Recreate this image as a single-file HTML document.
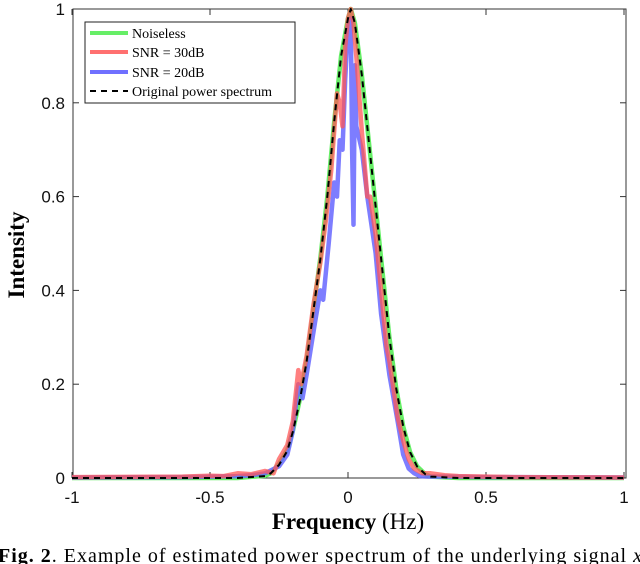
<!DOCTYPE html>
<html><head><meta charset="utf-8"><style>
body{margin:0;background:#fff;width:640px;height:564px;overflow:hidden}
svg{display:block}
.t{font-family:"Liberation Sans",sans-serif;font-size:17px;fill:#111}
.s{font-family:"Liberation Serif",serif}
</style></head><body>
<svg id="chart" width="640" height="564">
<rect x="73" y="9" width="553" height="469" fill="#fff" stroke="#333" stroke-width="1"/>
<g id="ticks"></g>
<g id="series"></g>
<text x="348" y="529" text-anchor="middle" class="s" font-size="23"><tspan font-weight="bold">Frequency</tspan> (Hz)</text>
<text transform="translate(24,255) rotate(-90)" text-anchor="middle" class="s" font-size="23" font-weight="bold">Intensity</text>
<text x="-2" y="562" class="s" font-size="20" textLength="644" lengthAdjust="spacing"><tspan font-weight="bold">Fig. 2</tspan>.  Example of estimated power spectrum of the underlying signal <tspan font-style="italic">x</tspan></text>
<g>
<rect x="85" y="22" width="210" height="81" fill="#fff" stroke="#222" stroke-width="1"/>
<line x1="90" y1="33" x2="128" y2="33" stroke="#66ee66" stroke-width="4"/>
<text x="132" y="38" class="s" font-size="14">Noiseless</text>
<line x1="90" y1="52" x2="128" y2="52" stroke="#ff7070" stroke-width="4"/>
<text x="132" y="57" class="s" font-size="14">SNR = 30dB</text>
<line x1="90" y1="72" x2="128" y2="72" stroke="#7070ff" stroke-width="4"/>
<text x="132" y="77" class="s" font-size="14">SNR = 20dB</text>
<line x1="90" y1="91" x2="128" y2="91" stroke="#000" stroke-width="2" stroke-dasharray="6,5"/>
<text x="132" y="96" class="s" font-size="14">Original power spectrum</text>
</g>
</svg>
<script>
const xTicks=[-1,-0.5,0,0.5,1];
const xTickLabels=["-1","-0.5","0","0.5","1"];
const yTicks=[0,0.2,0.4,0.6,0.8,1];
const yTickLabels=["0","0.2","0.4","0.6","0.8","1"];
const freqMain=[-1,-0.4,-0.3,-0.28,-0.25,-0.22,-0.2,-0.175,-0.15,-0.125,-0.1,-0.075,-0.05,-0.025,0,0.01,0.025,0.05,0.075,0.1,0.125,0.15,0.175,0.2,0.225,0.25,0.28,0.3,0.4,1];
const valNoiseless=[0,0,0.005,0.01,0.03,0.06,0.1,0.166,0.25,0.36,0.47,0.6,0.76,0.9,0.98,1.0,0.97,0.86,0.72,0.58,0.44,0.3,0.19,0.11,0.055,0.025,0.008,0.003,0,0];
const valOriginal=[0,0,0.004,0.01,0.028,0.058,0.098,0.164,0.248,0.358,0.468,0.6,0.76,0.9,0.98,1.0,0.97,0.86,0.72,0.58,0.44,0.3,0.19,0.11,0.055,0.025,0.008,0.003,0,0];
const freqRed=[-1,-0.6,-0.5,-0.45,-0.4,-0.35,-0.3,-0.27,-0.25,-0.22,-0.2,-0.18,-0.17,-0.15,-0.125,-0.1,-0.08,-0.06,-0.04,-0.03,-0.02,-0.01,0,0.01,0.02,0.03,0.05,0.07,0.08,0.1,0.12,0.14,0.15,0.18,0.2,0.22,0.24,0.27,0.3,0.35,0.4,0.5,0.6,1];
const valRed=[0.002,0.003,0.005,0.004,0.01,0.008,0.015,0.01,0.04,0.07,0.12,0.23,0.2,0.26,0.37,0.46,0.55,0.66,0.82,0.8,0.75,0.92,0.98,1.0,0.97,0.9,0.74,0.6,0.6,0.52,0.4,0.28,0.25,0.13,0.08,0.04,0.02,0.01,0.01,0.006,0.004,0.003,0.002,0.001];
const freqBlue=[-1,-0.6,-0.5,-0.4,-0.35,-0.3,-0.25,-0.22,-0.2,-0.18,-0.165,-0.15,-0.12,-0.1,-0.09,-0.07,-0.05,-0.04,-0.03,-0.02,-0.01,0,0.01,0.015,0.02,0.025,0.03,0.05,0.07,0.1,0.12,0.15,0.18,0.2,0.22,0.24,0.26,0.3,0.4,0.5,1];
const valBlue=[0.001,0.002,0.003,0.004,0.006,0.01,0.025,0.05,0.1,0.2,0.17,0.22,0.33,0.4,0.38,0.5,0.63,0.6,0.72,0.7,0.85,0.96,0.98,0.7,0.54,0.88,0.75,0.7,0.6,0.48,0.35,0.22,0.12,0.05,0.02,0.01,0.004,0.003,0.003,0.002,0.001];
const X=f=>348+f*276, Y=v=>478-v*469;
const NS="http://www.w3.org/2000/svg";
const tg=document.getElementById('ticks'), sg=document.getElementById('series');
xTicks.forEach((t,i)=>{
 const l=document.createElementNS(NS,'line');
 l.setAttribute('x1',X(t));l.setAttribute('x2',X(t));l.setAttribute('y1',478);l.setAttribute('y2',472);l.setAttribute('stroke','#333');
 
 
 tg.appendChild(l);
 const l2=document.createElementNS(NS,'line');
 l2.setAttribute('x1',X(t));l2.setAttribute('x2',X(t));l2.setAttribute('y1',9);l2.setAttribute('y2',15);l2.setAttribute('stroke','#333');
 
 
 tg.appendChild(l2);
 const tx=document.createElementNS(NS,'text');
 tx.setAttribute('x',X(t));tx.setAttribute('y',503);tx.setAttribute('text-anchor','middle');tx.setAttribute('class','t');
 tx.textContent=xTickLabels[i];
 
 
 tg.appendChild(tx);
});
yTicks.forEach((t,i)=>{
 const l=document.createElementNS(NS,'line');
 l.setAttribute('x1',73);l.setAttribute('x2',79);l.setAttribute('y1',Y(t));l.setAttribute('y2',Y(t));l.setAttribute('stroke','#333');
 
 
 tg.appendChild(l);
 const l2=document.createElementNS(NS,'line');
 l2.setAttribute('x1',620);l2.setAttribute('x2',626);l2.setAttribute('y1',Y(t));l2.setAttribute('y2',Y(t));l2.setAttribute('stroke','#333');
 
 
 tg.appendChild(l2);
 const tx=document.createElementNS(NS,'text');
 tx.setAttribute('x',65);tx.setAttribute('y',Y(t)+6);tx.setAttribute('text-anchor','end');tx.setAttribute('class','t');
 tx.textContent=yTickLabels[i];
 
 
 tg.appendChild(tx);
});
function line(fs,vs,color,w,dash,name,op){
 const p=document.createElementNS(NS,'polyline');
 p.setAttribute('points',fs.map((f,i)=>X(f).toFixed(1)+','+Y(vs[i]).toFixed(1)).join(' '));
 p.setAttribute('fill','none');p.setAttribute('stroke',color);p.setAttribute('stroke-width',w);
 p.setAttribute('stroke-linejoin','round');
 if(op)p.setAttribute('stroke-opacity',op);
 if(dash)p.setAttribute('stroke-dasharray',dash);
 
 
 sg.appendChild(p);
}
line(freqMain,valNoiseless,'#66ee66',4.5,null,'noiseless-line');
line(freqBlue,valBlue,'#6666ff',4.5,null,'snr20-line',0.85);
line(freqRed,valRed,'#ff5555',4.5,null,'snr30-line',0.75);
line(freqMain,valOriginal,'#000',2,'6,5','original-spectrum-line');
</script>
</body></html>
